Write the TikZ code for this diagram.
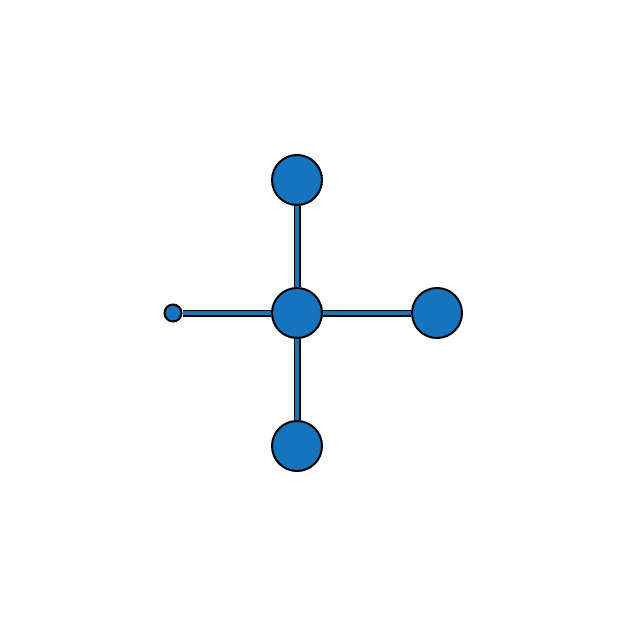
\documentclass[tikz,border=0pt]{standalone}
\usepackage{tikz}
\usepackage{xcolor}
\definecolor{atomblue}{RGB}{22,116,190}

\begin{document}
\begin{tikzpicture}[x=1pt,y=-1pt]
                        \tikzset{Atom/.style={%
                                shape=circle,%
                                draw=black,%
                                fill=atomblue,%
                                line width=2pt,%
                                minimum size=50pt,%
                                inner sep=0pt,%
                            },
                            Bond/.style={%
                                draw=black,%
                                line width=1.8pt,%
                                double=atomblue,%
                                double distance=3.4pt,%
                            }}
                            \useasboundingbox (0,0) rectangle (626,626);

                            \node[Atom] (c) at (297,313) {};
                            \node[Atom] (t) at (297,180) {};
                            \node[Atom] (b) at (297,446) {};
                            \node[Atom] (r) at (437,313) {};
                            \node[Atom, minimum size=17pt] (l) at (173,313) {};

                            \path (c) edge[Bond] (t);
                            \path (c) edge[Bond] (b);
                            \path (c) edge[Bond] (r);
                            \path (c) edge[Bond] (l);
                    \end{tikzpicture}
\end{document}
